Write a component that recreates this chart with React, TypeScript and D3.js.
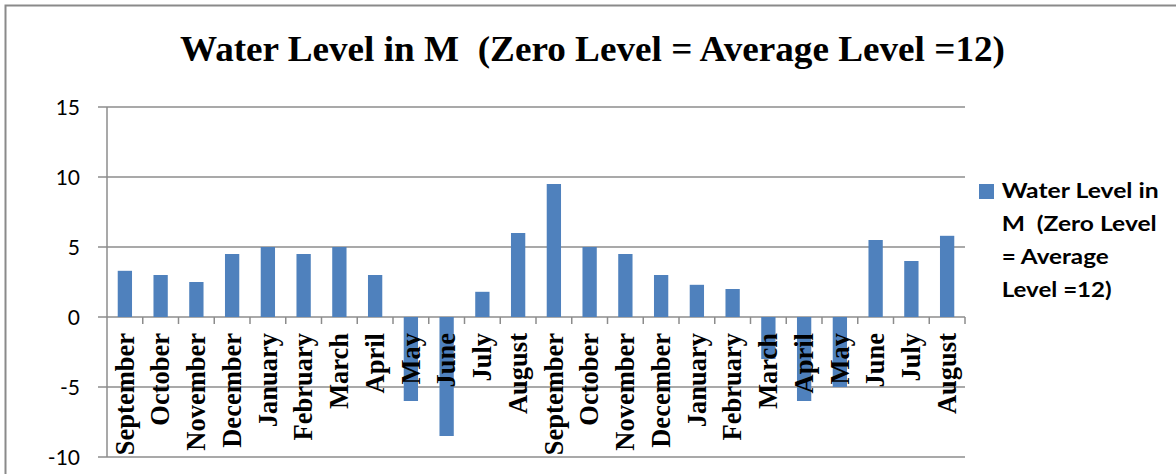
import React from "react";
import * as d3 from "d3";

const TITLE = "Water Level in M  (Zero Level = Average Level =12)";
const months = [
  "September", "October", "November", "December", "January", "February",
  "March", "April", "May", "June", "July", "August",
  "September", "October", "November", "December", "January", "February",
  "March", "April", "May", "June", "July", "August",
];
const values = [
  3.3, 3, 2.5, 4.5, 5, 4.5, 5, 3, -6, -8.5, 1.8, 6,
  9.5, 5, 4.5, 3, 2.3, 2, -3, -6, -5, 5.5, 4, 5.8,
];
const yTicks = [-10, -5, 0, 5, 10, 15];
const legendLines = ["Water Level in", "M  (Zero Level", "= Average", "Level =12)"];
const legendWidths = [157, 155, 107, 110];

const W = 1176;
const H = 474;
const left = 107;
const right = 965;
const top = 107;
const bottom = 457;
const barColor = "#4F81BD";
const gridColor = "#8C8C8C";

export default function App() {
  const keys = months.map((_, i) => String(i));
  const x = d3.scaleBand<string>().domain(keys).range([left, right]).paddingInner(0.6).paddingOuter(0.3);
  const step = x.step();
  const y = d3.scaleLinear().domain([-10, 15]).range([bottom, top]);
  const y0 = y(0);

  return (
    <svg width={W} height={H} style={{ position: "absolute", left: 0, top: 0, background: "#fff" }}>
      <rect x={0} y={0} width={W} height={H} fill="#fff" />
      <rect x={5.5} y={5.5} width={W + 20} height={H + 20} fill="none" stroke="#8a8a8a" strokeWidth={2} />
      <text x={592.5} y={61} textAnchor="middle" fontFamily="'Liberation Serif', 'Times New Roman', serif"
        fontWeight="bold" fontSize={36.7} fill="#000" textLength={825} lengthAdjust="spacingAndGlyphs"
        style={{ whiteSpace: "pre" }}>{TITLE}</text>
      {yTicks.map((t) => (
        <g key={t}>
          <line x1={98} x2={right} y1={y(t)} y2={y(t)} stroke={gridColor} strokeWidth={1.5} />
          <text x={80} y={y(t)} dy="0.36em" textAnchor="end" fontFamily="Lato, 'Open Sans', sans-serif"
            fontSize={21} fill="#000">{t}</text>
        </g>
      ))}
      <line x1={left} x2={left} y1={top} y2={bottom} stroke={gridColor} strokeWidth={1.5} />
      {keys.map((k, i) => (
        <line key={"t" + k} x1={left + step * (i + 1)} x2={left + step * (i + 1)} y1={y0} y2={y0 + 7}
          stroke={gridColor} strokeWidth={1.5} />
      ))}
      {values.map((v, i) => (
        <rect key={"b" + i} x={x(keys[i])} width={x.bandwidth()} y={Math.min(y(v), y0)}
          height={Math.abs(y(v) - y0)} fill={barColor} />
      ))}
      {months.map((m, i) => {
        const cx = (x(keys[i]) as number) + x.bandwidth() / 2;
        return (
          <text key={"l" + i} transform={`translate(${cx},333) rotate(-90)`} dy="0.33em" textAnchor="end"
            fontFamily="'Liberation Serif', 'Times New Roman', serif" fontWeight="bold" fontSize={26.5} fill="#000">{m}</text>
        );
      })}
      <rect x={979} y={184} width={15} height={15} fill={barColor} />
      {legendLines.map((l, i) => (
        <text key={"g" + i} x={1001.7} y={198.3 + i * 33} fontFamily="Lato, 'Open Sans', sans-serif" fontWeight="bold"
          fontSize={20} fill="#000" textLength={legendWidths[i]} lengthAdjust="spacingAndGlyphs"
          style={{ whiteSpace: "pre" }}>{l}</text>
      ))}
    </svg>
  );
}
